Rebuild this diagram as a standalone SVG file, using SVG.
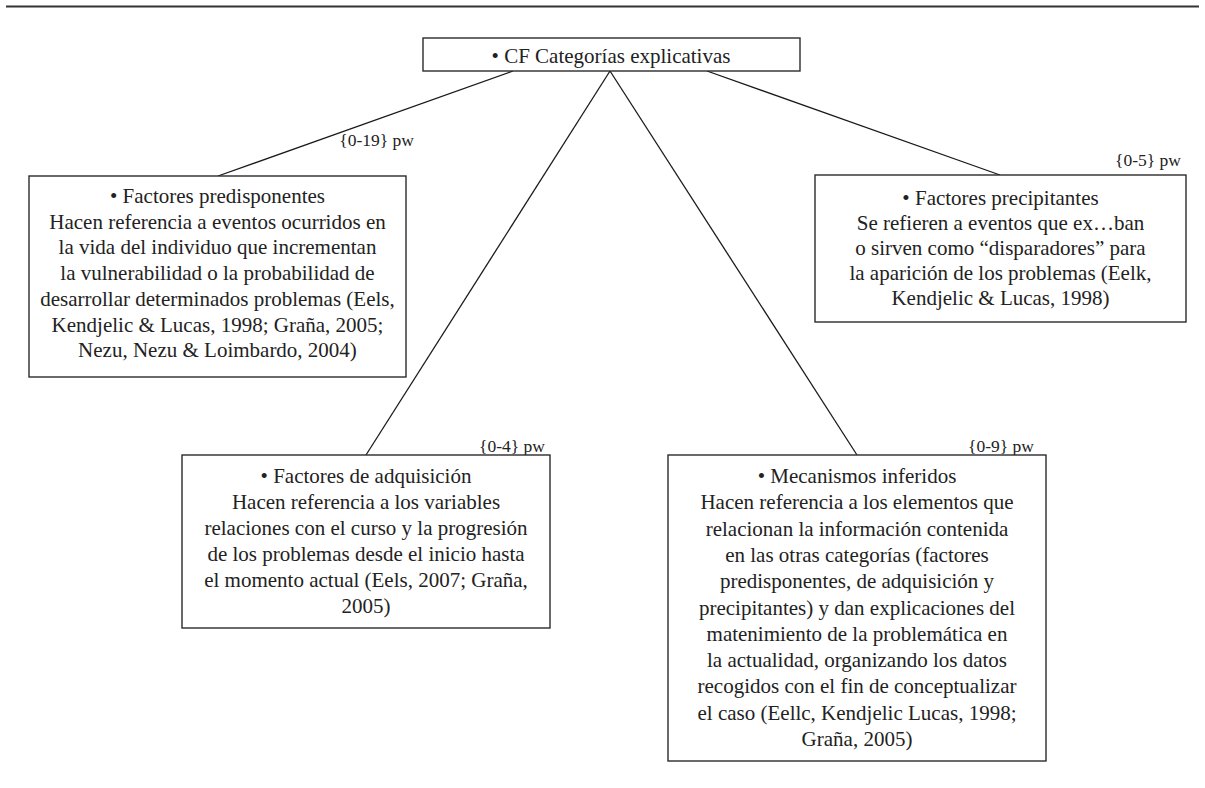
<svg xmlns="http://www.w3.org/2000/svg" width="1205" height="788" viewBox="0 0 1205 788">
<style>
.box{fill:#fff;stroke:#2b2b2b;stroke-width:1.4}
.t{font-family:"Liberation Serif","DejaVu Serif",serif;font-size:21px;fill:#222;text-anchor:middle}
.lbl{font-family:"Liberation Serif","DejaVu Serif",serif;font-size:17.5px;fill:#222;text-anchor:end}
.c{stroke:#1a1a1a;stroke-width:1.3;fill:none}
</style>
<rect width="1205" height="788" fill="#fff"/>
<line x1="6" y1="6.5" x2="1199" y2="6.5" stroke="#333" stroke-width="2"/>
<g id="connectors">
<line class="c" x1="513" y1="71" x2="218" y2="176"/>
<line class="c" x1="610" y1="71" x2="366" y2="455"/>
<line class="c" x1="610" y1="71" x2="857" y2="455"/>
<line class="c" x1="707" y1="71" x2="1000" y2="175"/>
<text class="lbl" x="414" y="146">{0-19} pw</text>
<text class="lbl" x="1181" y="166">{0-5} pw</text>
<text class="lbl" x="545" y="452">{0-4} pw</text>
<text class="lbl" x="1034" y="452">{0-9} pw</text>
</g>
<g id="root">
<rect class="box" x="423" y="38" width="377" height="33"/>
<text class="t" x="611" y="63">• CF Categorías explicativas</text>
</g>
<g id="predisponentes">
<rect class="box" x="29" y="176" width="377" height="201"/>
<text class="t" x="217.5" y="203">• Factores predisponentes</text>
<text class="t" x="217.5" y="228.7">Hacen referencia a eventos ocurridos en</text>
<text class="t" x="217.5" y="254.4">la vida del individuo que incrementan</text>
<text class="t" x="217.5" y="280.1">la vulnerabilidad o la probabilidad de</text>
<text class="t" x="217.5" y="305.8">desarrollar determinados problemas (Eels,</text>
<text class="t" x="217.5" y="331.5">Kendjelic &amp; Lucas, 1998; Graña, 2005;</text>
<text class="t" x="217.5" y="357.2">Nezu, Nezu &amp; Loimbardo, 2004)</text>
</g>
<g id="precipitantes">
<rect class="box" x="815" y="175" width="371" height="147"/>
<text class="t" x="1000.5" y="205">• Factores precipitantes</text>
<text class="t" x="1000.5" y="230">Se refieren a eventos que ex…ban</text>
<text class="t" x="1000.5" y="255">o sirven como “disparadores” para</text>
<text class="t" x="1000.5" y="280">la aparición de los problemas (Eelk,</text>
<text class="t" x="1000.5" y="305">Kendjelic &amp; Lucas, 1998)</text>
</g>
<g id="adquisicion">
<rect class="box" x="182" y="455" width="368" height="173"/>
<text class="t" x="366" y="483">• Factores de adquisición</text>
<text class="t" x="366" y="509">Hacen referencia a los variables</text>
<text class="t" x="366" y="535">relaciones con el curso y la progresión</text>
<text class="t" x="366" y="561">de los problemas desde el inicio hasta</text>
<text class="t" x="366" y="587">el momento actual (Eels, 2007; Graña,</text>
<text class="t" x="366" y="613">2005)</text>
</g>
<g id="mecanismos">
<rect class="box" x="668" y="455" width="378" height="306"/>
<text class="t" x="857" y="483">• Mecanismos inferidos</text>
<text class="t" x="857" y="509.3">Hacen referencia a los elementos que</text>
<text class="t" x="857" y="535.6">relacionan la información contenida</text>
<text class="t" x="857" y="561.9">en las otras categorías (factores</text>
<text class="t" x="857" y="588.2">predisponentes, de adquisición y</text>
<text class="t" x="857" y="614.5">precipitantes) y dan explicaciones del</text>
<text class="t" x="857" y="640.8">matenimiento de la problemática en</text>
<text class="t" x="857" y="667.1">la actualidad, organizando los datos</text>
<text class="t" x="857" y="693.4">recogidos con el fin de conceptualizar</text>
<text class="t" x="857" y="719.7">el caso (Eellc, Kendjelic Lucas, 1998;</text>
<text class="t" x="857" y="746">Graña, 2005)</text>
</g>
</svg>
